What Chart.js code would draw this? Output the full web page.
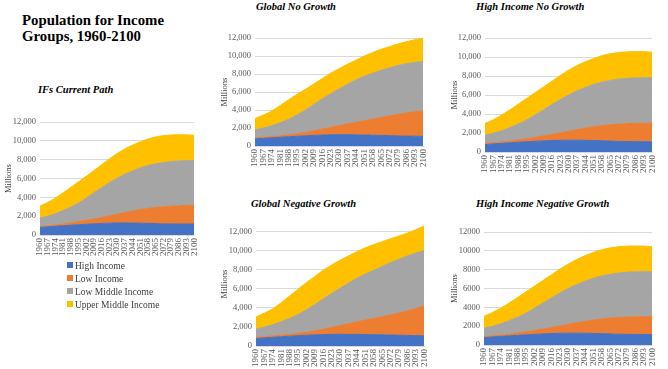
<!DOCTYPE html>
<html>
<head>
<meta charset="utf-8">
<script src="https://cdn.jsdelivr.net/npm/chart.js@4.4.1/dist/chart.umd.min.js"></script>
<style>
  html, body { margin: 0; padding: 0; background: #fff; }
  body { width: 668px; height: 369px; position: relative; overflow: hidden;
         font-family: "Liberation Serif", "Times New Roman", serif; }
  .abs { position: absolute; }
  #mainTitle { left: 22px; top: 12px; font-size: 14.8px; font-weight: bold; line-height: 16px; color: #000; }
  .sub { font-size: 10.5px; font-weight: bold; font-style: italic; color: #000; white-space: nowrap; }
  .box canvas { display: block; }
  #legend { left: 67px; top: 260px; font-size: 9.5px; color: #404040; }
  #legend div { height: 13px; line-height: 13px; white-space: nowrap; }
  #legend span { display: inline-block; width: 6px; height: 6px; margin-right: 2px; vertical-align: 1px; }
</style>
</head>
<body>
<div id="mainTitle" class="abs">Population for Income<br>Groups, 1960-2100</div>
<div class="abs sub" style="left:38px; top:84px;">IFs Current Path</div>
<div class="abs sub" style="left:256px; top:1px;">Global No Growth</div>
<div class="abs sub" style="left:476px; top:1px;">High Income No Growth</div>
<div class="abs sub" style="left:251px; top:198px;">Global Negative Growth</div>
<div class="abs sub" style="left:476px; top:198px;">High Income Negative Growth</div>

<div id="c1" class="abs box"><canvas></canvas></div>
<div id="c2" class="abs box"><canvas></canvas></div>
<div id="c3" class="abs box"><canvas></canvas></div>
<div id="c4" class="abs box"><canvas></canvas></div>
<div id="c5" class="abs box"><canvas></canvas></div>
<div id="legend" class="abs"></div>

<script>
/* ── data: millions of people, years shown on the axis ── */
const years = ['1960', '1967', '1974', '1981', '1988', '1995', '2002', '2009', '2016', '2023', '2030',
  '2037', '2044', '2051', '2058', '2065', '2072', '2079', '2086', '2093', '2100'];
const groups = ['High Income', 'Low Income', 'Low Middle Income', 'Upper Middle Income'];
const colors = ['#4472C4', '#ED7D31', '#A5A5A5', '#FFC000'];
const yTicks = [0, 2000, 4000, 6000, 8000, 10000, 12000];

// IFs Current Path
const currentHigh = [800, 860, 920, 980, 1040, 1090, 1140, 1190, 1230, 1260, 1280, 1280, 1270, 1260, 1240, 1210, 1180, 1170, 1170, 1170, 1170];
const currentLow = [100, 110, 130, 170, 240, 330, 420, 520, 630, 770, 920, 1100, 1280, 1440, 1590, 1710, 1820, 1890, 1930, 1970, 2000];
const currentLowMid = [900, 1030, 1220, 1450, 1690, 1980, 2370, 2790, 3180, 3530, 3830, 4070, 4260, 4430, 4560, 4640, 4690, 4740, 4770, 4760, 4730];
const currentUpperMid = [1270, 1450, 1660, 1880, 2100, 2250, 2310, 2360, 2440, 2520, 2630, 2700, 2740, 2770, 2810, 2860, 2870, 2830, 2790, 2750, 2700];

// Global No Growth
const globalNoHigh = [780, 850, 910, 970, 1030, 1080, 1130, 1180, 1220, 1250, 1260, 1260, 1240, 1220, 1200, 1180, 1150, 1120, 1100, 1090, 1080];
const globalNoLow = [120, 120, 140, 160, 190, 270, 370, 500, 650, 820, 1010, 1190, 1390, 1590, 1800, 2000, 2200, 2400, 2580, 2710, 2820];
const globalNoLowMid = [900, 1030, 1200, 1450, 1750, 2100, 2500, 2940, 3380, 3740, 4080, 4420, 4720, 4950, 5100, 5240, 5350, 5430, 5470, 5500, 5500];
const globalNoUpperMid = [1250, 1450, 1650, 1920, 2180, 2300, 2300, 2280, 2250, 2290, 2250, 2230, 2200, 2240, 2300, 2330, 2350, 2400, 2450, 2520, 2600];

// High Income No Growth
const highNoHigh = [780, 850, 910, 970, 1030, 1080, 1130, 1170, 1210, 1230, 1240, 1240, 1230, 1210, 1190, 1150, 1120, 1100, 1090, 1080, 1070];
const highNoLow = [120, 120, 140, 170, 230, 320, 410, 520, 640, 790, 950, 1120, 1290, 1450, 1590, 1720, 1820, 1890, 1930, 1950, 1960];
const highNoLowMid = [860, 1000, 1190, 1440, 1690, 1980, 2360, 2760, 3150, 3500, 3820, 4080, 4280, 4460, 4580, 4670, 4730, 4770, 4790, 4790, 4790];
const highNoUpperMid = [1240, 1430, 1660, 1870, 2100, 2270, 2350, 2400, 2450, 2530, 2610, 2660, 2700, 2730, 2790, 2810, 2810, 2790, 2770, 2750, 2700];

// Global Negative Growth
const globalNegHigh = [780, 850, 910, 970, 1030, 1080, 1130, 1170, 1200, 1220, 1230, 1220, 1210, 1200, 1190, 1170, 1150, 1130, 1110, 1090, 1070];
const globalNegLow = [120, 120, 140, 160, 190, 240, 310, 410, 550, 720, 920, 1120, 1320, 1520, 1710, 1910, 2110, 2330, 2570, 2830, 3130];
const globalNegLowMid = [880, 1010, 1180, 1420, 1680, 1980, 2360, 2770, 3200, 3580, 3900, 4260, 4570, 4830, 5050, 5270, 5490, 5640, 5770, 5830, 5820];
const globalNegUpperMid = [1270, 1470, 1670, 2000, 2350, 2650, 2850, 2950, 3000, 2980, 2950, 2850, 2800, 2750, 2700, 2600, 2500, 2450, 2400, 2450, 2580];

// High Income Negative Growth
const highNegHigh = [780, 850, 910, 970, 1030, 1080, 1130, 1180, 1220, 1250, 1260, 1260, 1250, 1230, 1210, 1180, 1150, 1130, 1120, 1110, 1100];
const highNegLow = [120, 120, 140, 170, 230, 320, 410, 510, 630, 770, 930, 1100, 1260, 1420, 1560, 1680, 1780, 1840, 1880, 1900, 1900];
const highNegLowMid = [880, 1010, 1200, 1440, 1690, 1980, 2360, 2760, 3150, 3500, 3810, 4060, 4270, 4440, 4570, 4660, 4720, 4760, 4780, 4780, 4780];
const highNegUpperMid = [1270, 1470, 1670, 1890, 2100, 2270, 2350, 2400, 2450, 2530, 2600, 2660, 2700, 2740, 2780, 2800, 2800, 2780, 2750, 2720, 2670];

const FONT = "'Liberation Serif', 'Times New Roman', serif";

/* ── one small stacked area chart, plot rect given in page px ── */
function areaChart(id, plot, yW, series, commas, yMax) {
  const PAD_T = 6, PAD_R = 5, X_H = 30;
  const box = document.getElementById(id);
  box.style.left = (plot.l - yW) + 'px';
  box.style.top = (plot.t - PAD_T) + 'px';
  box.style.width = (plot.r - plot.l + yW + PAD_R) + 'px';
  box.style.height = (plot.b - plot.t + PAD_T + X_H) + 'px';

  new Chart(box.querySelector('canvas'), {
    type: 'line',
    data: {
      labels: years,
      datasets: series.map((vals, i) => ({
        label: groups[i], data: vals,
        backgroundColor: colors[i], borderColor: colors[i], borderWidth: 1,
        pointRadius: 0, fill: i === 0 ? 'origin' : '-1',
        cubicInterpolationMode: 'monotone'
      }))
    },
    options: {
      responsive: true, maintainAspectRatio: false, animation: false,
      layout: { padding: { top: PAD_T, right: PAD_R, left: 0, bottom: 0 } },
      plugins: { legend: { display: false }, tooltip: { enabled: false } },
      scales: {
        x: {
          offset: false,
          grid: { display: false, drawTicks: false },
          border: { display: true, color: '#d9d9d9' },
          ticks: { autoSkip: false, minRotation: 90, maxRotation: 90, padding: 3,
                   color: '#595959', font: { size: 9, family: FONT } },
          afterFit: s => { s.height = X_H; }
        },
        y: {
          stacked: true, min: 0, max: yMax,
          afterBuildTicks: s => { s.ticks = yTicks.map(v => ({ value: v })); },
          grid: { color: '#d9d9d9', drawTicks: false },
          border: { display: false },
          ticks: { padding: 4, color: '#595959', font: { size: 8.5, family: FONT },
                   callback: v => commas ? v.toLocaleString('en-US') : String(v) },
          title: { display: true, text: 'Millions', color: '#404040', padding: 0,
                   font: { size: 8.5, family: FONT } },
          afterFit: s => { s.width = yW; }
        }
      }
    }
  });
}

areaChart('c1', { l: 40, t: 119, r: 203, b: 235 }, 36,
  [currentHigh, currentLow, currentLowMid, currentUpperMid], true, 12000);
areaChart('c2', { l: 255, t: 35, r: 432, b: 146 }, 35,
  [globalNoHigh, globalNoLow, globalNoLowMid, globalNoUpperMid], true, 12000);
areaChart('c3', { l: 485, t: 35, r: 661, b: 152 }, 35,
  [highNoHigh, highNoLow, highNoLowMid, highNoUpperMid], true, 12000);
areaChart('c4', { l: 256, t: 219, r: 433, b: 346 }, 36,
  [globalNegHigh, globalNegLow, globalNegLowMid, globalNegUpperMid], true, 13000);
areaChart('c5', { l: 484, t: 229, r: 661, b: 345 }, 34,
  [highNegHigh, highNegLow, highNegLowMid, highNegUpperMid], false, 12000);

/* ── shared legend under the first chart ── */
document.getElementById('legend').innerHTML = groups
  .map((g, i) => `<div><span style="background:${colors[i]}"></span>${g}</div>`).join('');
</script>
</body>
</html>
